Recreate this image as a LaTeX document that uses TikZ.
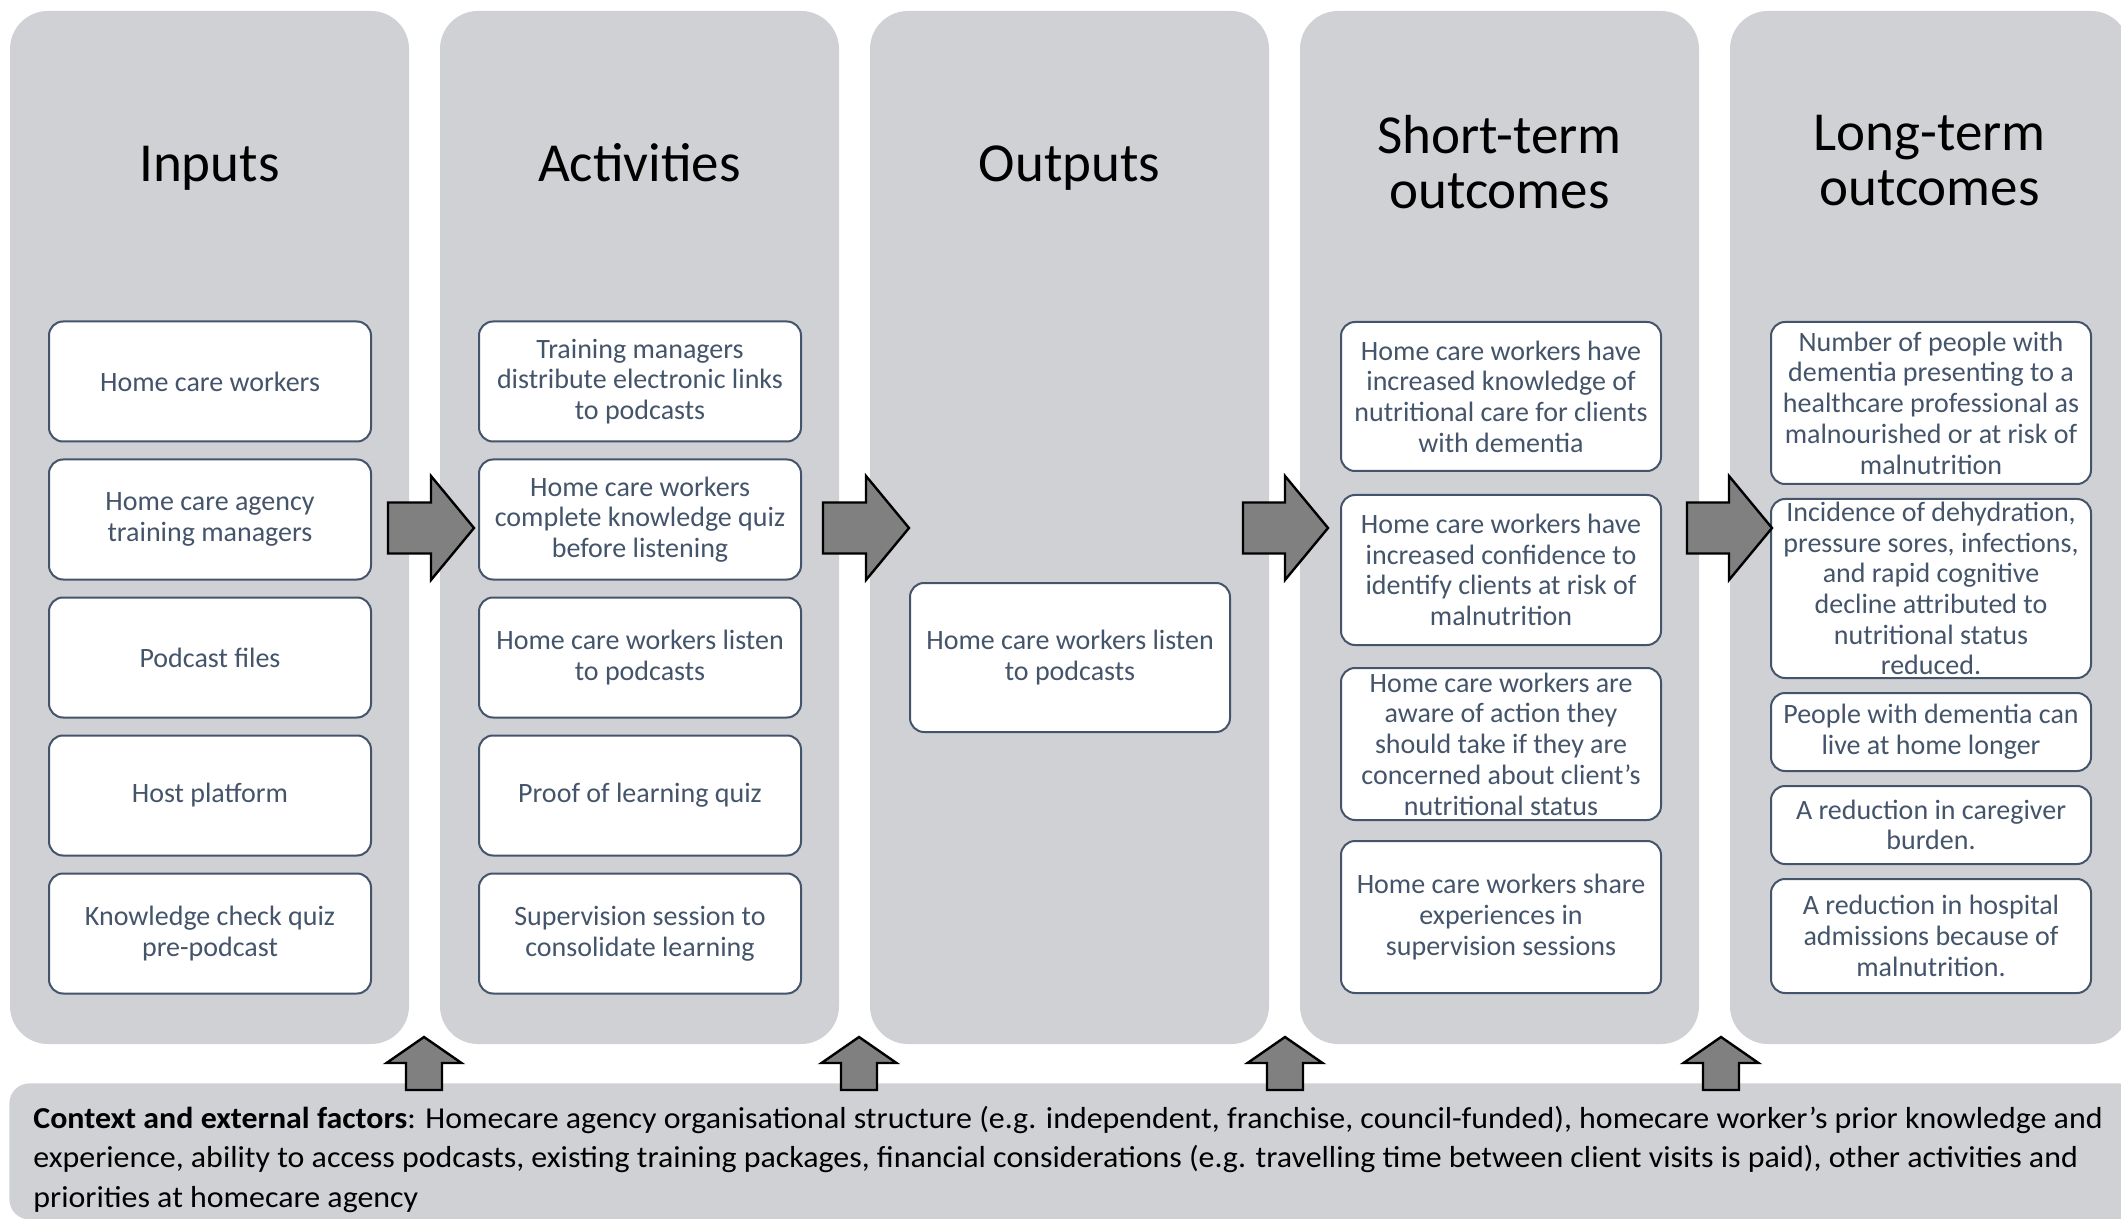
\documentclass[tikz,border=0pt]{standalone}
\usepackage{fontspec}
\setmainfont{Carlito}
\newfontfamily\ctxfont[FakeStretch=1.05]{Carlito}
\definecolor{colgray}{HTML}{D0D1D5}
\definecolor{boxblue}{HTML}{44546A}
\definecolor{arrgray}{HTML}{808080}
\newcommand\RightBlock[3]{%
  \filldraw[blockarrow] (#1,{#3-25.5}) -- ({#2-43},{#3-25.5}) -- ({#2-43},{#3-52}) -- (#2,#3)
    -- ({#2-43},{#3+52}) -- ({#2-43},{#3+25.5}) -- (#1,{#3+25.5}) -- cycle;}
\newcommand\UpBlock[1]{%
  \filldraw[blockarrow] (#1,1037) -- ({#1+37.5},1063) -- ({#1+18},1063) -- ({#1+18},1090)
    -- ({#1-18},1090) -- ({#1-18},1063) -- ({#1-37.5},1063) -- cycle;}
\begin{document}
\begin{tikzpicture}[x=0.5pt,y=-0.5pt,
  col/.style={fill=colgray, rounded corners=19pt, minimum width=199.5pt, minimum height=516.5pt, inner sep=0pt},
  coltitle/.style={font=\fontsize{27.5}{27.5}\selectfont, align=center, text=black, inner sep=0pt},
  box/.style={draw=boxblue, line width=1pt, fill=white, rounded corners=7pt, minimum width=160pt,
    align=center, text=boxblue, font=\fontsize{14}{15.35}\selectfont, inner sep=0pt},
  blockarrow/.style={fill=arrgray, draw=black, line width=1.2pt, line join=miter}]
\useasboundingbox (0,0) rectangle (2121,1219);
\clip (0,0) rectangle (2121,1219);
\fill[white] (0,0) rectangle (2121,1219);
% columns
\node[col] (cin)  at (209.5,527.5) {};
\node[col] (cact) at (639.5,527.5) {};
\node[col] (cout) at (1069.5,527.5) {};
\node[col] (cst)  at (1499.5,527.5) {};
\node[col] (clt)  at (1929.5,527.5) {};
% context box
\node[fill=colgray, rounded corners=10pt, minimum width=1065pt, minimum height=68pt, inner sep=0pt, anchor=north west] (ctx) at (9,1083) {};
% titles
\node[coltitle, anchor=base] (tin) at (209.5,182) {Inputs};
\node[coltitle, anchor=base] (tact) at (639.5,182) {Activities};
\node[coltitle, anchor=base] (tout) at (1069.5,182) {Outputs};
\node[coltitle, anchor=north] (tst) at (1499.5,115) {Short-term\\outcomes};
\node[coltitle, anchor=north] (tlt) at (1929.5,115) {Long-term\\outcomes};
% inputs
\node[box, minimum width=161pt, minimum height=60pt] (i1) at (210,381.5) {Home care workers};
\node[box, minimum width=161pt, minimum height=60pt] (i2) at (210,519.5) {Home care agency\\training managers};
\node[box, minimum width=161pt, minimum height=60pt] (i3) at (210,657.5) {Podcast files};
\node[box, minimum width=161pt, minimum height=60pt] (i4) at (210,795.5) {Host platform};
\node[box, minimum width=161pt, minimum height=60pt] (i5) at (210,933.5) {Knowledge check quiz\\pre-podcast};
% activities
\node[box, minimum width=161pt, minimum height=60pt] (a1) at (640,381.5) {Training managers\\distribute electronic links\\to podcasts};
\node[box, minimum width=161pt, minimum height=60pt] (a2) at (640,519.5) {Home care workers\\complete knowledge quiz\\before listening};
\node[box, minimum width=161pt, minimum height=60pt] (a3) at (640,657.5) {Home care workers listen\\to podcasts};
\node[box, minimum width=161pt, minimum height=60pt] (a4) at (640,795.5) {Proof of learning quiz};
\node[box, minimum width=161pt, minimum height=60pt] (a5) at (640,933.5) {Supervision session to\\consolidate learning};
% outputs
\node[box, minimum height=74.5pt] (o1) at (1070,657.5) {Home care workers listen\\to podcasts};
% short-term
\node[box, minimum height=74.5pt] (s1) at (1501,396.5) {Home care workers have\\increased knowledge of\\nutritional care for clients\\with dementia};
\node[box, minimum height=75pt] (s2) at (1501,570) {Home care workers have\\increased confidence to\\identify clients at risk of\\malnutrition};
\node[box, minimum height=76pt] (s3) at (1501,744) {Home care workers are\\aware of action they\\should take if they are\\concerned about client's\\nutritional status};
\node[box, minimum height=76pt] (s4) at (1501,917) {Home care workers share\\experiences in\\supervision sessions};
% long-term
\node[box, minimum height=81pt] (l1) at (1931,403) {Number of people with\\dementia presenting to a\\healthcare professional as\\malnourished or at risk of\\malnutrition};
\node[box, minimum height=89.5pt] (l2) at (1931,588.5) {Incidence of dehydration,\\pressure sores, infections,\\and rapid cognitive\\decline attributed to\\nutritional status\\reduced.};
\node[box, minimum height=39pt] (l3) at (1931,732) {People with dementia can\\live at home longer};
\node[box, minimum height=39pt] (l4) at (1931,825) {A reduction in caregiver\\burden.};
\node[box, minimum height=57pt] (l5) at (1931,936) {A reduction in hospital\\admissions because of\\malnutrition.};
% context text
\node[anchor=north west, align=left, inner sep=0pt, font=\ctxfont\fontsize{15.2}{19.6}\selectfont, text=black] (ctxt) at (33,1106)
 {\textbf{Context and external factors}: Homecare agency organisational structure (e.g. independent, franchise, council-funded), homecare worker’s prior knowledge and\\
 experience, ability to access podcasts, existing training packages, financial considerations (e.g. travelling time between client visits is paid), other activities and\\
 priorities at homecare agency};
% block arrows between columns
\RightBlock{388}{474}{528}
\RightBlock{823}{909}{528}
\RightBlock{1243}{1328}{528}
\RightBlock{1687}{1772}{528}
% up arrows from context
\UpBlock{424}
\UpBlock{859}
\UpBlock{1285}
\UpBlock{1721}
\end{tikzpicture}
\end{document}
